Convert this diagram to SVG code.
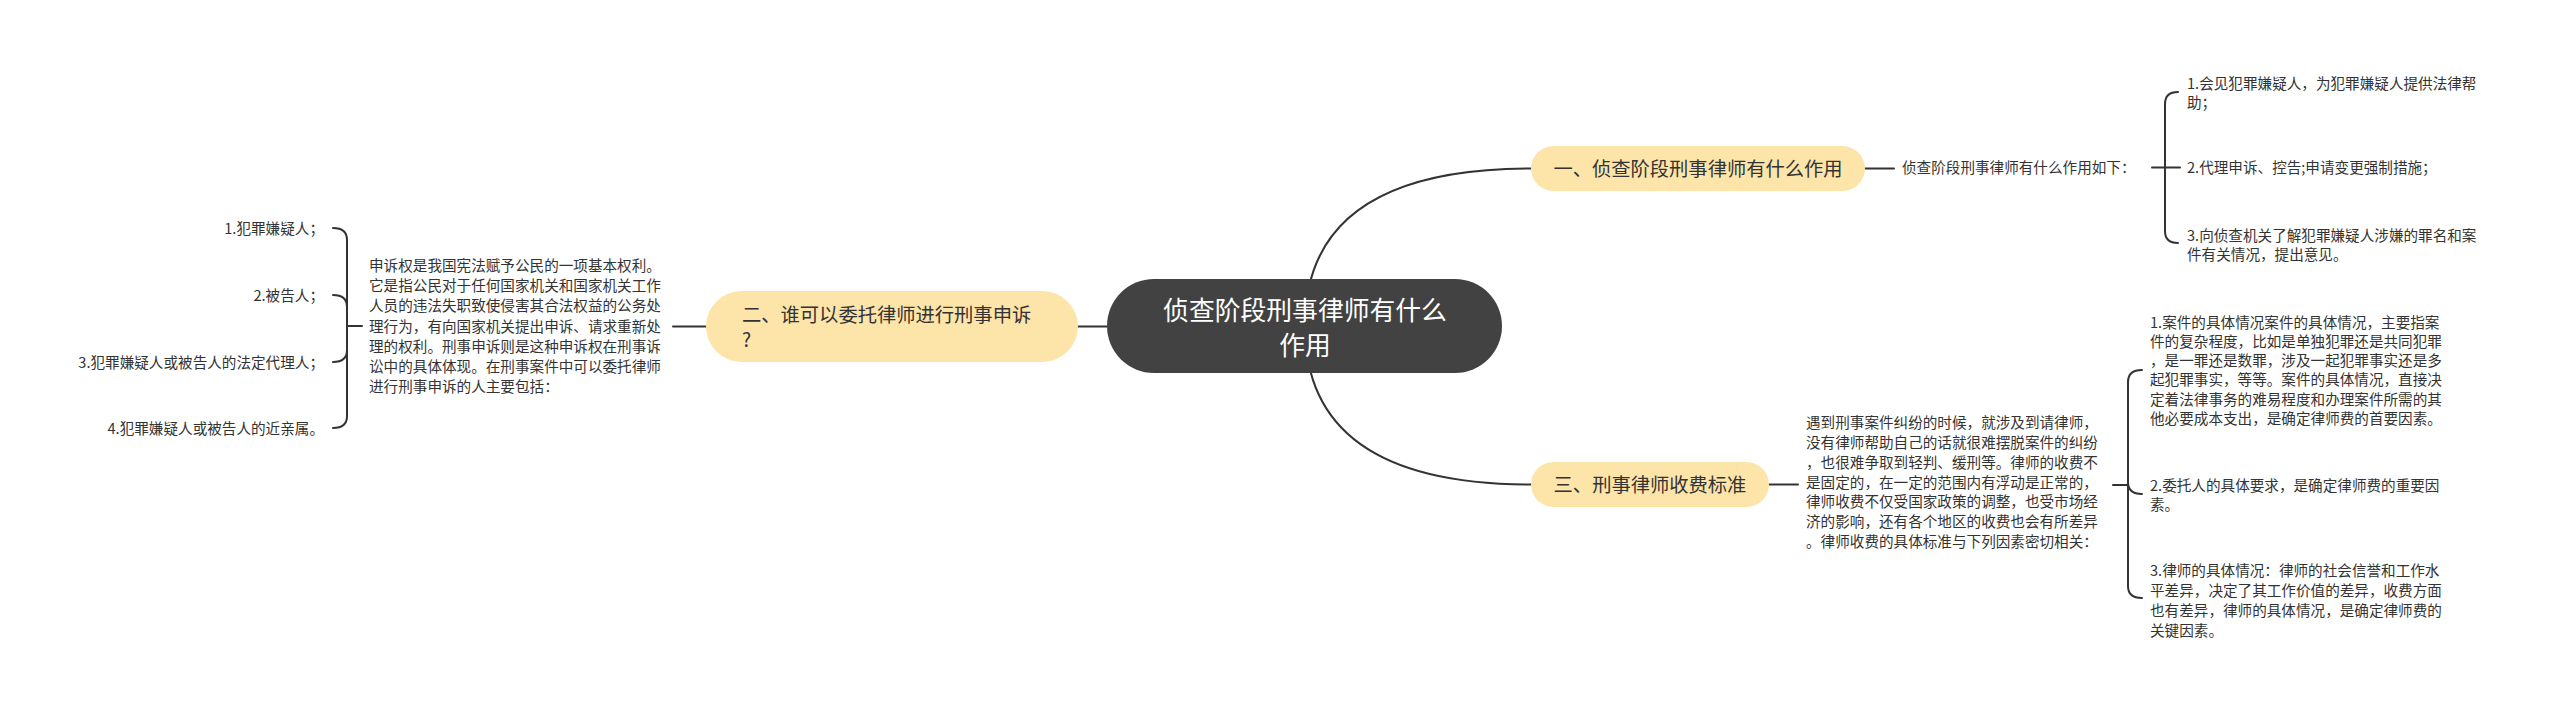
<svg xmlns="http://www.w3.org/2000/svg" width="2560" height="711" viewBox="0 0 2560 711">
<style>
text{font-family:"Noto Sans CJK SC","Noto Sans",sans-serif;fill:#333333}
.leaf{font-size:14.6px}
.sub{font-size:19.3px}
.root{font-size:25.8px;fill:#ffffff}
.ln{fill:none;stroke:#333333;stroke-width:2;stroke-linecap:round}
.yel{fill:#fde4a9}
</style>
<rect width="2560" height="711" fill="#ffffff"/>
<g id="connectors">
<path class="ln" d="M1305,326 Q1305,168.5 1531,168.5"/>
<path class="ln" d="M1305,326 Q1305,484.5 1531,484.5"/>
<path class="ln" d="M1107,326.5 H1078"/>
<path class="ln" d="M1865,168.5 H1894"/>
<path class="ln" d="M2152,167.5 H2180"/>
<path class="ln" d="M2178,92 Q2165,92 2165,104 V231 Q2165,243 2178,243"/>
<path class="ln" d="M706,326.5 H673"/>
<path class="ln" d="M362,326 H347"/>
<path class="ln" d="M333,228 Q347,228 347,240 V416 Q347,428 333,428"/>
<path class="ln" d="M333,295 Q347,295 347,307"/>
<path class="ln" d="M333,362 Q347,362 347,350"/>
<path class="ln" d="M1769,484.5 H1798"/>
<path class="ln" d="M2113,485 H2128"/>
<path class="ln" d="M2142,370 Q2128,370 2128,382 V586 Q2128,598 2142,598"/>
<path class="ln" d="M2128,482 Q2128,494 2142,494"/>
</g>
<g id="root">
<rect x="1107" y="279" width="395" height="94" rx="47" fill="#424242"/>
<text class="root" text-anchor="middle"><tspan x="1305" y="320">侦查阶段刑事律师有什么</tspan><tspan x="1305" y="355">作用</tspan></text>
</g>
<g id="n1">
<rect class="yel" x="1531" y="146" width="334" height="45" rx="22.5"/>
<text class="sub" x="1698" y="176" text-anchor="middle">一、侦查阶段刑事律师有什么作用</text>
</g>
<g id="n1-desc">
<text class="leaf" x="1902" y="173">侦查阶段刑事律师有什么作用如下：</text>
</g>
<g id="n1-items">
<text class="leaf"><tspan x="2187" y="88.5">1.会见犯罪嫌疑人，为犯罪嫌疑人提供法律帮</tspan><tspan x="2187" y="108.3">助；</tspan></text>
<text class="leaf" x="2187" y="173">2.代理申诉、控告;申请变更强制措施；</text>
<text class="leaf"><tspan x="2187" y="240.5">3.向侦查机关了解犯罪嫌疑人涉嫌的罪名和案</tspan><tspan x="2187" y="260.3">件有关情况，提出意见。</tspan></text>
</g>
<g id="n2">
<rect class="yel" x="706" y="291" width="372" height="71" rx="35.5"/>
<text class="sub"><tspan x="742" y="322">二、谁可以委托律师进行刑事申诉</tspan><tspan x="742" y="347">?</tspan></text>
</g>
<g id="n2-desc">
<text class="leaf"><tspan x="369" y="270.6">申诉权是我国宪法赋予公民的一项基本权利。</tspan><tspan x="369" y="290.9">它是指公民对于任何国家机关和国家机关工作</tspan><tspan x="369" y="311.2">人员的违法失职致使侵害其合法权益的公务处</tspan><tspan x="369" y="331.5">理行为，有向国家机关提出申诉、请求重新处</tspan><tspan x="369" y="351.8">理的权利。刑事申诉则是这种申诉权在刑事诉</tspan><tspan x="369" y="372.1">讼中的具体体现。在刑事案件中可以委托律师</tspan><tspan x="369" y="392.4">进行刑事申诉的人主要包括：</tspan></text>
</g>
<g id="n2-items">
<text class="leaf" x="324" y="233.5" text-anchor="end">1.犯罪嫌疑人；</text>
<text class="leaf" x="324" y="300.5" text-anchor="end">2.被告人；</text>
<text class="leaf" x="324" y="367.5" text-anchor="end">3.犯罪嫌疑人或被告人的法定代理人；</text>
<text class="leaf" x="324" y="433.5" text-anchor="end">4.犯罪嫌疑人或被告人的近亲属。</text>
</g>
<g id="n3">
<rect class="yel" x="1531" y="462" width="238" height="45" rx="22.5"/>
<text class="sub" x="1650" y="492" text-anchor="middle">三、刑事律师收费标准</text>
</g>
<g id="n3-desc">
<text class="leaf"><tspan x="1806" y="428.1">遇到刑事案件纠纷的时候，就涉及到请律师，</tspan><tspan x="1806" y="447.9">没有律师帮助自己的话就很难摆脱案件的纠纷</tspan><tspan x="1806" y="467.7">，也很难争取到轻判、缓刑等。律师的收费不</tspan><tspan x="1806" y="487.5">是固定的，在一定的范围内有浮动是正常的，</tspan><tspan x="1806" y="507.3">律师收费不仅受国家政策的调整，也受市场经</tspan><tspan x="1806" y="527.1">济的影响，还有各个地区的收费也会有所差异</tspan><tspan x="1806" y="546.9">。律师收费的具体标准与下列因素密切相关：</tspan></text>
</g>
<g id="n3-items">
<text class="leaf"><tspan x="2150" y="327.5">1.案件的具体情况案件的具体情况，主要指案</tspan><tspan x="2150" y="346.8">件的复杂程度，比如是单独犯罪还是共同犯罪</tspan><tspan x="2150" y="366.1">，是一罪还是数罪，涉及一起犯罪事实还是多</tspan><tspan x="2150" y="385.4">起犯罪事实，等等。案件的具体情况，直接决</tspan><tspan x="2150" y="404.7">定着法律事务的难易程度和办理案件所需的其</tspan><tspan x="2150" y="424">他必要成本支出，是确定律师费的首要因素。</tspan></text>
<text class="leaf"><tspan x="2150" y="490.5">2.委托人的具体要求，是确定律师费的重要因</tspan><tspan x="2150" y="510.3">素。</tspan></text>
<text class="leaf"><tspan x="2150" y="575.5">3.律师的具体情况：律师的社会信誉和工作水</tspan><tspan x="2150" y="595.8">平差异，决定了其工作价值的差异，收费方面</tspan><tspan x="2150" y="616.1">也有差异，律师的具体情况，是确定律师费的</tspan><tspan x="2150" y="636.4">关键因素。</tspan></text>
</g>
</svg>
